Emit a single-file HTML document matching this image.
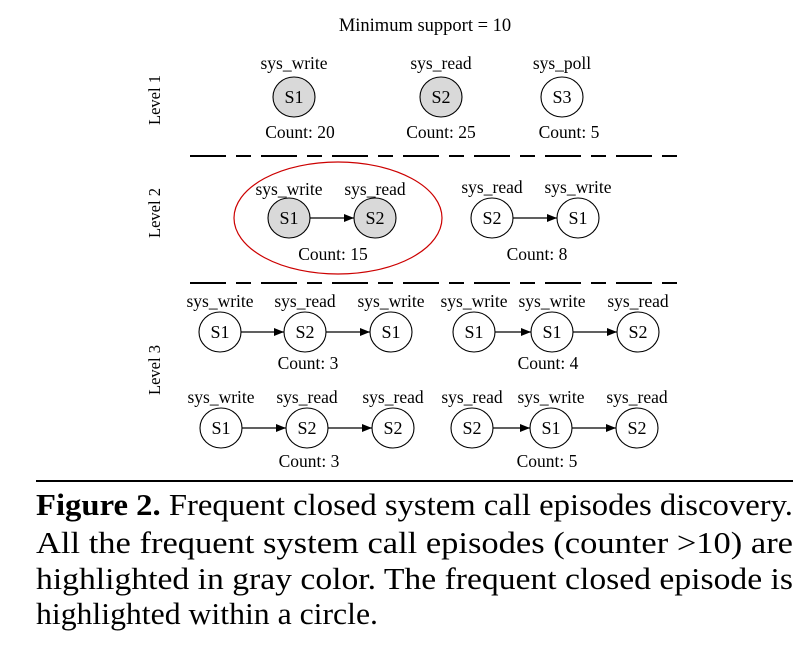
<!DOCTYPE html>
<html><head><meta charset="utf-8">
<style>
html,body{margin:0;padding:0;background:#fff;}
svg{display:block;}
svg text{font-family:"Liberation Serif","Times New Roman",Times,serif;}
</style></head>
<body>
<svg width="812" height="658" viewBox="0 0 812 658">
<defs>
<marker id="arr" markerWidth="10" markerHeight="8" refX="10" refY="4" orient="auto" markerUnits="userSpaceOnUse">
<path d="M0,0 L10,4 L0,8 z" fill="#000"/>
</marker>
</defs>
<text x="425" y="31" font-size="18.5" text-anchor="middle">Minimum support = 10</text>

<g font-size="16.5">
<text transform="translate(160,100) rotate(-90)" text-anchor="middle">Level 1</text>
<text transform="translate(160,213) rotate(-90)" text-anchor="middle">Level 2</text>
<text transform="translate(160,370) rotate(-90)" text-anchor="middle">Level 3</text>
</g>

<g stroke="#000" stroke-width="2" stroke-dasharray="36,10,15,10">
<line x1="190" y1="156" x2="683" y2="156"/>
<line x1="190" y1="283" x2="683" y2="283"/>
</g>

<ellipse cx="338" cy="218" rx="104" ry="56" fill="none" stroke="#c00" stroke-width="1.2"/>

<g id="graph" font-size="17.5"></g>

<line x1="36" y1="481" x2="793" y2="481" stroke="#000" stroke-width="2"/>
<g font-size="31">
<text x="36" y="515" textLength="757" lengthAdjust="spacingAndGlyphs"><tspan font-weight="bold">Figure 2.</tspan> Frequent closed system call episodes discovery.</text>
<text x="36" y="553" textLength="757" lengthAdjust="spacingAndGlyphs">All the frequent system call episodes (counter &gt;10) are</text>
<text x="36" y="589" textLength="757" lengthAdjust="spacingAndGlyphs">highlighted in gray color. The frequent closed episode is</text>
<text x="36" y="624" textLength="342" lengthAdjust="spacingAndGlyphs">highlighted within a circle.</text>
</g>
</svg>
<script>
const episodes = [
  {nodes:[["S1","sys_write",294,97,true]], count:"Count: 20", cx:300, cy:138, ly:69},
  {nodes:[["S2","sys_read",441,97,true]], count:"Count: 25", cx:441, cy:138, ly:69},
  {nodes:[["S3","sys_poll",562,97,false]], count:"Count: 5", cx:569, cy:138, ly:69},
  {nodes:[["S1","sys_write",289,218,true],["S2","sys_read",375,218,true]], count:"Count: 15", cx:333, cy:260, ly:195},
  {nodes:[["S2","sys_read",492,218,false],["S1","sys_write",578,218,false]], count:"Count: 8", cx:537, cy:260, ly:193},
  {nodes:[["S1","sys_write",220,332,false],["S2","sys_read",305,332,false],["S1","sys_write",391,332,false]], count:"Count: 3", cx:308, cy:369, ly:307},
  {nodes:[["S1","sys_write",474,332,false],["S1","sys_write",552,332,false],["S2","sys_read",638,332,false]], count:"Count: 4", cx:548, cy:369, ly:307},
  {nodes:[["S1","sys_write",221,428,false],["S2","sys_read",307,428,false],["S2","sys_read",393,428,false]], count:"Count: 3", cx:309, cy:467, ly:403},
  {nodes:[["S2","sys_read",472,428,false],["S1","sys_write",551,428,false],["S2","sys_read",637,428,false]], count:"Count: 5", cx:547, cy:467, ly:403}
];
const NS="http://www.w3.org/2000/svg";
const g=document.getElementById('graph');
function mk(t,a,txt){const e=document.createElementNS(NS,t);for(const k in a)e.setAttribute(k,a[k]);if(txt)e.textContent=txt;g.appendChild(e);return e;}
episodes.forEach((ep,i)=>{
  ep.nodes.forEach((n,j)=>{
    const [id,lab,x,y,gray]=n;
    if(j>0){
      const px=ep.nodes[j-1][2];
      const ln=mk('line',{x1:px+21,y1:y,x2:x-21,y2:y,stroke:'#000','stroke-width':1.2,'marker-end':'url(#arr)'});
      
      
    }
    const c=mk('ellipse',{cx:x,cy:y,rx:21,ry:20,fill:gray?'#d9d9d9':'#fff',stroke:'#000','stroke-width':1.1});
    
    
    const t=mk('text',{x:x,y:y+6,'text-anchor':'middle','font-size':18},id);
    
    
    const l=mk('text',{x:x,y:ep.ly,'text-anchor':'middle'},lab);
    
    
  });
  const ct=mk('text',{x:ep.cx,y:ep.cy,'text-anchor':'middle'},ep.count);
  
  
});
</script>
</body></html>
